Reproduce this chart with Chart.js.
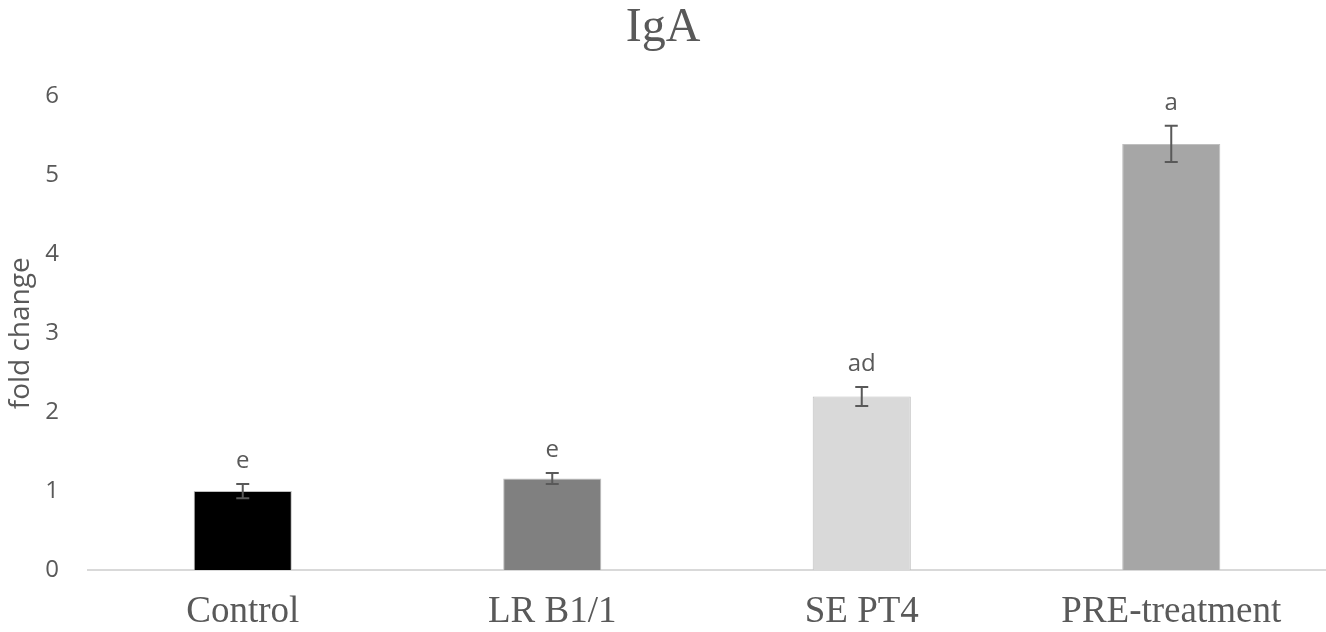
<!DOCTYPE html>
<html>
<head>
<meta charset="utf-8">
<script src="https://cdn.jsdelivr.net/npm/chart.js@4"></script>
<style>
  html, body { margin: 0; padding: 0; background: #fff; }
  #wrap { width: 1326px; height: 632px; }
</style>
</head>
<body>
<div id="wrap"><canvas id="chart"></canvas></div>
<script>
const categories = ["Control", "LR B1/1", "SE PT4", "PRE-treatment"];
const foldChange = [1.0, 1.16, 2.2, 5.4];
const errors = [0.09, 0.07, 0.12, 0.23];
const letters = ["e", "e", "ad", "a"];
const barColors = ["#000000", "#808080", "#d9d9d9", "#a6a6a6"];
const yTicks = [0, 1, 2, 3, 4, 5, 6];

// error bars + significance letters
const errorBarPlugin = {
  id: "errorBars",
  afterDatasetsDraw(chart) {
    const ctx = chart.ctx;
    const meta = chart.getDatasetMeta(0);
    const y = chart.scales.y;
    ctx.save();
    meta.data.forEach(function (bar, i) {
      const x = bar.x;
      const top = y.getPixelForValue(foldChange[i] + errors[i]);
      const bot = y.getPixelForValue(foldChange[i] - errors[i]);
      ctx.strokeStyle = "#595959";
      ctx.lineWidth = 2;
      ctx.beginPath();
      ctx.moveTo(x, top); ctx.lineTo(x, bot);
      ctx.moveTo(x - 6.5, top); ctx.lineTo(x + 6.5, top);
      ctx.moveTo(x - 6.5, bot); ctx.lineTo(x + 6.5, bot);
      ctx.stroke();
      ctx.fillStyle = "#595959";
      ctx.font = "24px 'Open Sans', sans-serif";
      ctx.textAlign = "center";
      ctx.textBaseline = "middle";
      ctx.fillText(letters[i], x, top - 23);
    });
    ctx.restore();
  }
};

new Chart(document.getElementById("chart"), {
  type: "bar",
  data: {
    labels: categories,
    datasets: [
      {
        data: foldChange,
        backgroundColor: barColors,
        borderColor: "#bfbfbf",
        borderWidth: 1,
        categoryPercentage: 1,
        barPercentage: 0.317,
      },
    ],
  },
  options: {
    responsive: true,
    maintainAspectRatio: false,
    animation: false,
    layout: { padding: { left: 0, right: 0, top: 0, bottom: 0 } },
    plugins: {
      legend: { display: false },
      tooltip: { enabled: false },
      title: {
        display: true,
        text: "IgA",
        color: "#595959",
        font: { family: "'Liberation Serif', serif", size: 48, weight: "normal" },
        padding: { top: 0, bottom: 39 },
      },
    },
    scales: {
      x: {
        grid: { display: false, drawTicks: false },
        border: { display: true, color: "#d9d9d9", width: 2 },
        ticks: {
          color: "#595959",
          font: { family: "'Liberation Serif', serif", size: 37 },
          padding: 20,
          maxRotation: 0,
        },
        afterFit(scale) { scale.height = 62; },
      },
      y: {
        min: 0,
        max: 6,
        grid: { display: false, drawTicks: false },
        border: { display: false },
        afterBuildTicks(scale) { scale.ticks = yTicks.map(v => ({ value: v })); },
        ticks: {
          color: "#595959",
          font: { family: "'Open Sans', sans-serif", size: 24 },
          padding: 29,
        },
        title: {
          display: true,
          text: "fold change",
          color: "#595959",
          font: { family: "'Open Sans', sans-serif", size: 28 },
          padding: { top: 4, bottom: 0 },
        },
        afterFit(scale) { scale.width = 88; },
      },
    },
  },
  plugins: [errorBarPlugin],
});
</script>
</body>
</html>
